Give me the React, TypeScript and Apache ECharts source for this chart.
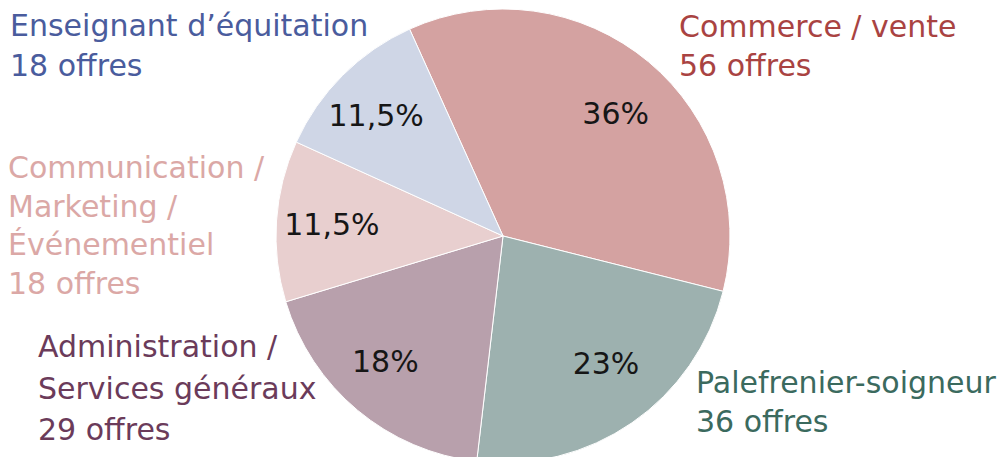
import React, { useEffect, useRef } from "react";
import * as echarts from "echarts";

const categories = [
  "Commerce / vente",
  "Palefrenier-soigneur",
  "Administration /\nServices généraux",
  "Communication /\nMarketing /\nÉvénementiel",
  "Enseignant d’équitation",
];
const offers = [56, 36, 29, 18, 18];
const pctLabels = ["36%", "23%", "18%", "11,5%", "11,5%"];
const sliceColors = ["#d4a2a1", "#9db1af", "#b8a0ac", "#e8cfcf", "#cfd6e6"];
const labelColors = ["#a94342", "#3b6a5e", "#6b3b5a", "#dba8a6", "#4a5c9d"];
const labelPos: [number, number][] = [
  [679, 37],
  [696, 393],
  [38, 357],
  [8, 178],
  [10, 36],
];
const pctOffsets: [number, number][] = [
  [2, 10],
  [5, -14],
  [-7, -7],
  [1, 0],
  [-5, 2],
];
const lineHeights = [39, 38.5, 41.5, 38.5, 40];

const FONT = "'DejaVu Sans'";
const FS = 30;

export default function App() {
  const ref = useRef<HTMLDivElement>(null);
  useEffect(() => {
    document.body.style.margin = "0";
    const chart = echarts.init(ref.current!, undefined, { renderer: "svg" });
    const R = 227;
    const center = [503, 236];
    const data = categories.map((c, i) => ({
      name: c,
      value: offers[i],
      itemStyle: { color: sliceColors[i] },
    }));
    const labelData = categories.map((c, i) => ({
      name: c,
      value: offers[i],
      label: { formatter: pctLabels[i], offset: pctOffsets[i] },
    }));
    chart.setOption({
      animation: false,
      series: [
        {
          type: "pie",
          center,
          radius: [0, R],
          startAngle: 114.3,
          clockwise: true,
          label: { show: false },
          labelLine: { show: false },
          itemStyle: { borderColor: "#ffffff", borderWidth: 1 },
          emphasis: { disabled: true },
          silent: true,
          data,
        },
        {
          type: "pie",
          center,
          radius: [112, R],
          startAngle: 114.3,
          clockwise: true,
          itemStyle: { color: "rgba(0,0,0,0)" },
          label: {
            show: true,
            position: "inside",
            color: "#161616",
            fontSize: FS,
            fontFamily: FONT,
          },
          labelLine: { show: false },
          emphasis: { disabled: true },
          silent: true,
          data: labelData,
        },
      ],
      graphic: categories.map((c, i) => ({
        type: "text",
        x: labelPos[i][0],
        y: labelPos[i][1] - lineHeights[i] / 2 - 10.4,
        silent: true,
        style: {
          text: `${c}\n${offers[i]} offres`,
          fill: labelColors[i],
          font: `${FS}px ${FONT}`,
          lineHeight: lineHeights[i],
          textAlign: "left",
          textVerticalAlign: "top",
        },
      })),
    });
    return () => chart.dispose();
  }, []);
  return <div ref={ref} style={{ width: 1006, height: 457 }} />;
}
